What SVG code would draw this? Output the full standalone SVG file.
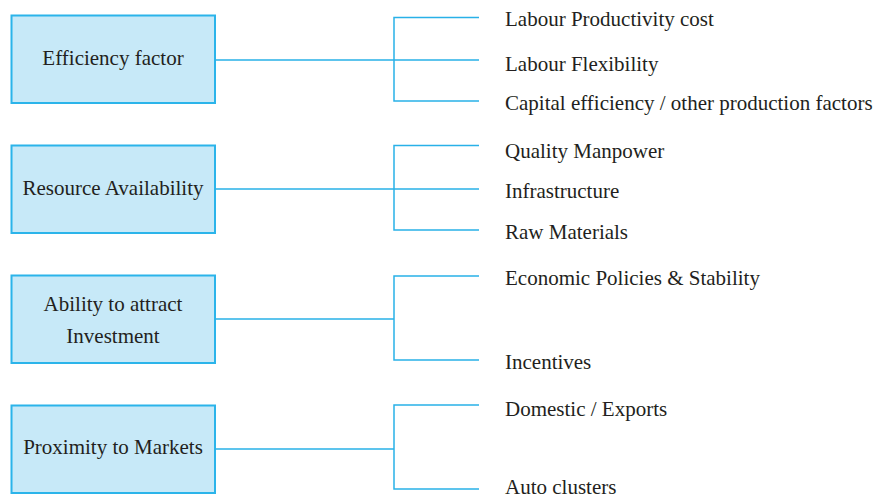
<svg xmlns="http://www.w3.org/2000/svg" width="879" height="498" viewBox="0 0 879 498">
<style>
.box{fill:#c7e9f8;stroke:#2bb4ea;stroke-width:2}
.ln{fill:none;stroke:#29b1e8;stroke-width:1.5}
text{font-family:"Liberation Serif",serif;font-size:21px;fill:#231f20}
.c{text-anchor:middle}
</style>
<rect width="879" height="498" fill="#fff"/>
<g id="n1"><rect class="box" x="11.5" y="15.5" width="203.5" height="87.5"/><text class="c" x="113" y="65">Efficiency factor</text></g>
<g id="n2"><rect class="box" x="11.5" y="145.5" width="203.5" height="87.5"/><text class="c" x="113" y="195">Resource Availability</text></g>
<g id="n3"><rect class="box" x="11.5" y="275.5" width="203.5" height="87.5"/><text class="c" x="113" y="311">Ability to attract</text><text class="c" x="113" y="343">Investment</text></g>
<g id="n4"><rect class="box" x="11.5" y="405.5" width="203.5" height="87.5"/><text class="c" x="113" y="454">Proximity to Markets</text></g>
<g id="items">
<text x="505" y="26">Labour Productivity cost</text>
<text x="505" y="71">Labour Flexibility</text>
<text x="505" y="110">Capital efficiency / other production factors</text>
<text x="505" y="158">Quality Manpower</text>
<text x="505" y="198">Infrastructure</text>
<text x="505" y="239">Raw Materials</text>
<text x="505" y="285">Economic Policies &amp; Stability</text>
<text x="505" y="369">Incentives</text>
<text x="505" y="416">Domestic / Exports</text>
<text x="505" y="494">Auto clusters</text>
</g>
<g id="connectors">
<path class="ln" d="M215 60H479M479 17.5H394V101H479"/>
<path class="ln" d="M215 189H479M479 145.5H394V230H479"/>
<path class="ln" d="M215 319H394M479 276H394V360H479"/>
<path class="ln" d="M215 449H394M479 405H394V489H479"/>
</g>
</svg>
